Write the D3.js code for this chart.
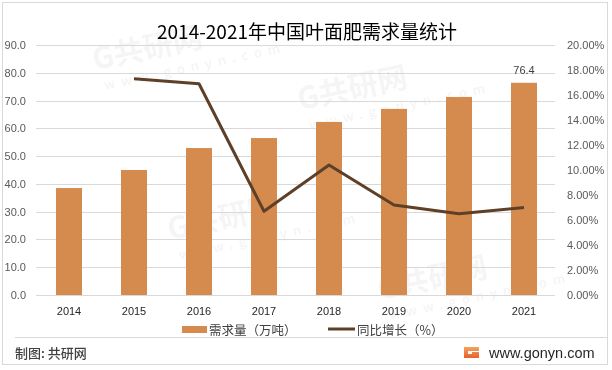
<!DOCTYPE html>
<html><head><meta charset="utf-8">
<script src="https://cdn.jsdelivr.net/npm/d3@7"></script>
<style>body{margin:0;background:#fff}svg{display:block}</style>
</head><body>
<svg id="c" width="612" height="370"></svg>
<script>
const years = ["2014","2015","2016","2017","2018","2019","2020","2021"];
const demand = [38.5, 45.0, 52.9, 56.5, 62.3, 67.0, 71.3, 76.4];
const growth = [null, 17.3, 16.9, 6.7, 10.4, 7.2, 6.5, 7.0];
const leftTicks = [0,10,20,30,40,50,60,70,80,90];
const rightTicks = [0,2,4,6,8,10,12,14,16,18,20];
const title = "2014-2021年中国叶面肥需求量统计";
const legendLabels = ["需求量（万吨）", "同比增长（%）"];

const svg = d3.select("#c");
const font = "'Noto Sans CJK SC','Microsoft YaHei',sans-serif";
const numFont = "'Liberation Sans','DejaVu Sans',sans-serif";
const barColor = "#D48B4D", lineColor = "#5E4028";

// outer frame
svg.append("rect").attr("x",2.5).attr("y",2.5).attr("width",605).attr("height",362)
  .attr("fill","#fff").attr("stroke","#D9D9D9").attr("stroke-width",1);

// faint watermarks
const wm = svg.append("g").attr("fill","#000").attr("opacity",0.04).attr("font-family",font).attr("font-weight","bold");
[[95,70],[300,110],[170,240],[380,300]].forEach(([x,y])=>{
  wm.append("text").attr("transform",`translate(${x},${y}) rotate(-12)`).attr("font-size",30).text("G共研网");
  wm.append("text").attr("transform",`translate(${x+10},${y+20}) rotate(-12)`).attr("font-size",13).attr("letter-spacing",6).text("www.gonyn.com");
});

const x = d3.scaleBand().domain(years).range([36.5,556.5]).paddingInner(0.6).paddingOuter(0.3);
const yL = d3.scaleLinear().domain([0,90]).range([295,45]);
const yR = d3.scaleLinear().domain([0,20]).range([295,45]);

// gridlines
svg.append("g").selectAll("line").data(leftTicks).join("line")
  .attr("x1",36).attr("x2",555).attr("y1",d=>Math.round(yL(d))+0.5).attr("y2",d=>Math.round(yL(d))+0.5)
  .attr("stroke","#D9D9D9").attr("stroke-width",1);

// left axis
const la = svg.append("g").attr("transform","translate(26,0)")
  .call(d3.axisLeft(yL).tickValues(leftTicks).tickSize(0).tickPadding(0).tickFormat(d3.format(".1f")));
la.select(".domain").remove();
la.selectAll("text").attr("font-family",numFont).attr("font-size",11).attr("fill","#595959");

// right axis
const ra = svg.append("g").attr("transform","translate(567,0)")
  .call(d3.axisRight(yR).tickValues(rightTicks).tickSize(0).tickPadding(0).tickFormat(d=>d3.format(".2f")(d)+"%"));
ra.select(".domain").remove();
ra.selectAll("text").attr("font-family",numFont).attr("font-size",11).attr("fill","#595959");

// bars
svg.append("g").selectAll("rect").data(years).join("rect")
  .attr("x",d=>x(d)).attr("width",x.bandwidth())
  .attr("y",(d,i)=>yL(demand[i])).attr("height",(d,i)=>yL(0)-yL(demand[i]))
  .attr("fill",barColor);

// data label on last bar
svg.append("text").attr("x",x(years[7])+x.bandwidth()/2).attr("y",yL(demand[7])-9)
  .attr("text-anchor","middle").attr("font-family",numFont).attr("font-size",11).attr("fill","#404040")
  .text(demand[7].toFixed(1));

// line
const pts = years.map((d,i)=>({d,v:growth[i]})).filter(p=>p.v!=null);
svg.append("path").datum(pts)
  .attr("d",d3.line().x(p=>x(p.d)+x.bandwidth()/2).y(p=>yR(p.v)))
  .attr("fill","none").attr("stroke",lineColor).attr("stroke-width",3).attr("stroke-linejoin","round");

// x axis labels
const xa = svg.append("g").attr("transform","translate(0,307)")
  .call(d3.axisBottom(x).tickSize(0).tickPadding(0));
xa.select(".domain").remove();
xa.selectAll("text").attr("font-family",numFont).attr("font-size",11).attr("fill","#262626");

// title
svg.append("text").attr("x",307).attr("y",39).attr("text-anchor","middle")
  .attr("font-family",font).attr("font-size",19).attr("fill","#000").text(title);

// legend
const lg = svg.append("g");
lg.append("rect").attr("x",182).attr("y",326).attr("width",25).attr("height",7).attr("fill",barColor);
lg.append("text").attr("x",209).attr("y",334.5).attr("font-family",font).attr("font-size",12.5).attr("fill","#404040").text(legendLabels[0]);
lg.append("line").attr("x1",328).attr("x2",355).attr("y1",329).attr("y2",329).attr("stroke",lineColor).attr("stroke-width",3);
lg.append("text").attr("x",357).attr("y",334.5).attr("font-family",font).attr("font-size",12.5).attr("fill","#404040").text(legendLabels[1]);

// separator
svg.append("line").attr("x1",15).attr("x2",607).attr("y1",337.5).attr("y2",337.5).attr("stroke","#D9D9D9");

// footer
svg.append("text").attr("x",15).attr("y",358).attr("font-family",font).attr("font-size",13).attr("font-weight",500).attr("fill","#404040").text("制图: 共研网");
const lgG = svg.append("g").attr("transform","translate(464,347)");
const grad = svg.append("defs").append("linearGradient").attr("id","og").attr("x1",0).attr("y1",0).attr("x2",0).attr("y2",1);
grad.append("stop").attr("offset","0").attr("stop-color","#F7A35C");
grad.append("stop").attr("offset","1").attr("stop-color","#E8602A");
lgG.append("path").attr("d","M0,0 H15 V4 H4 V7 H15 V11 H0 Z M8,5 H15 V8 H8 Z").attr("fill","url(#og)");
svg.append("text").attr("x",489).attr("y",358).attr("font-family",numFont).attr("font-size",14.5).attr("fill","#262626").text("www.gonyn.com");
</script>
</body></html>
